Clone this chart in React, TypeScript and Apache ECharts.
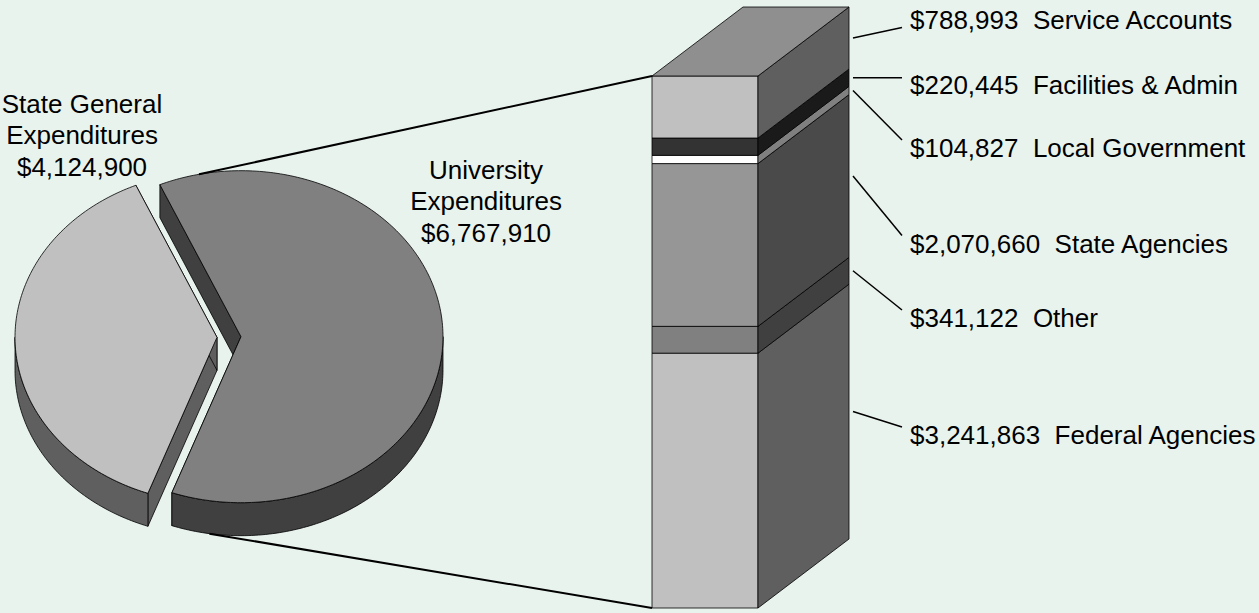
import React, { useEffect, useRef } from 'react';
import * as echarts from 'echarts';

// ---- data ----
const pieNames = ['State General\nExpenditures', 'University\nExpenditures'];
const pieValues = [4124900, 6767910];
const barNames = ['Federal Agencies', 'Other', 'State Agencies', 'Local Government', 'Facilities & Admin', 'Service Accounts'];
const barValues = [3241863, 341122, 2070660, 104827, 220445, 788993];

// ---- styles / layout ----
const pieTop = ['#C0C0C0', '#808080'];
const pieSide = ['#5F5F5F', '#404040'];
const barFront = ['#C0C0C0', '#808080', '#969696', '#FFFFFF', '#333333', '#C0C0C0'];
const barSide = ['#5F5F5F', '#404040', '#4A4A4A', '#808080', '#1A1A1A', '#5F5F5F'];
const barTopColor = '#8F8F8F';
const barLabelY = [435, 318, 243.5, 148, 84.5, 19.5];
const pieLabelPos = [[82, 135], [486, 201]];
const PIE = { cx: 229, cy: 337, rx: 202, ry: 166, h: 33, explode: 12, start: 110 };
const DEPTH = { dx: 91, dy: -69 };
const LABEL_X = 910;
const CONNECT_ANGLES = { top: 258, bottom: 99 };
const FONT = "'Liberation Sans', Arial, sans-serif";

const deg = Math.PI / 180;
const pieTotal = pieValues.reduce((s, v) => s + v, 0);
const barTotal = barValues.reduce((s, v) => s + v, 0);
const fmt = (v: number) => '$' + v.toLocaleString('en-US');

function sliceGeom(i: number) {
  let a = PIE.start;
  for (let j = 0; j < i; j++) a += (pieValues[j] / pieTotal) * 360;
  const b = a + (pieValues[i] / pieTotal) * 360;
  const mid = (a + b) / 2;
  const cx = PIE.cx + PIE.explode * Math.cos(mid * deg);
  const cy = PIE.cy + PIE.explode * Math.sin(mid * deg) * (PIE.ry / PIE.rx);
  return { a, b, cx, cy };
}
function ell(cx: number, cy: number, t: number) {
  return [cx + PIE.rx * Math.cos(t * deg), cy + PIE.ry * Math.sin(t * deg)];
}
function arc(cx: number, cy: number, lo: number, hi: number, dy = 0) {
  const pts: number[][] = [];
  const n = Math.max(2, Math.ceil(hi - lo));
  for (let k = 0; k <= n; k++) {
    const p = ell(cx, cy, lo + ((hi - lo) * k) / n);
    pts.push([p[0], p[1] + dy]);
  }
  return pts;
}

const outline = { stroke: '#000', lineWidth: 0.8 };

export default function App() {
  const ref = useRef<HTMLDivElement>(null);
  useEffect(() => {
    if (!ref.current) return;
    const chart = echarts.init(ref.current, undefined, { renderer: 'svg' });

    let cum = 0;
    const barData = barValues.map((v, i) => {
      const item = [i, cum, cum + v];
      cum += v;
      return item;
    });

    const option: any = {
      animation: false,
      backgroundColor: '#E9F3EE',
      grid: { left: 652, width: 106, top: 76, height: 532 },
      xAxis: { type: 'value', min: 0, max: 1, show: false },
      yAxis: { type: 'value', min: 0, max: barTotal, show: false },
      series: [
        {
          type: 'custom',
          coordinateSystem: 'none',
          data: pieValues.map((v, i) => [v, i]),
          renderItem: (params: any, api: any) => {
            const i = params.dataIndex;
            const { a, b, cx, cy } = sliceGeom(i);
            const h = PIE.h;
            const children: any[] = [];
            for (const t of [a, b]) {
              const r = ell(cx, cy, t);
              children.push({
                type: 'polygon',
                shape: { points: [[cx, cy], r, [r[0], r[1] + h], [cx, cy + h]] },
                style: { fill: pieSide[i], ...outline },
              });
            }
            for (let k = -1; k <= 2; k++) {
              const lo = Math.max(a, k * 360);
              const hi = Math.min(b, k * 360 + 180);
              if (hi > lo) {
                const top = arc(cx, cy, lo, hi);
                const bot = arc(cx, cy, lo, hi, h).reverse();
                children.push({
                  type: 'polygon',
                  shape: { points: top.concat(bot) },
                  style: { fill: pieSide[i], ...outline },
                });
              }
            }
            children.push({
              type: 'polygon',
              shape: { points: [[cx, cy]].concat(arc(cx, cy, a, b)) },
              style: { fill: pieTop[i], ...outline },
            });
            children.push({
              type: 'text',
              x: pieLabelPos[i][0],
              y: pieLabelPos[i][1],
              style: {
                text: pieNames[i] + '\n' + fmt(api.value(0)),
                fill: '#000',
                font: `26px ${FONT}`,
                lineHeight: 31.5,
                align: 'center',
                verticalAlign: 'middle',
              },
            });
            return { type: 'group', children };
          },
        },
        {
          type: 'custom',
          coordinateSystem: 'cartesian2d',
          data: barData,
          encode: { x: 0, y: [1, 2] },
          renderItem: (params: any, api: any) => {
            const i = params.dataIndex;
            const p0 = api.coord([0, api.value(1)]);
            const p1 = api.coord([1, api.value(2)]);
            const { dx, dy } = DEPTH;
            const children: any[] = [];
            children.push({
              type: 'polygon',
              shape: { points: [[p0[0], p0[1]], [p1[0], p0[1]], [p1[0], p1[1]], [p0[0], p1[1]]] },
              style: { fill: barFront[i], ...outline },
            });
            children.push({
              type: 'polygon',
              shape: {
                points: [[p1[0], p0[1]], [p1[0] + dx, p0[1] + dy], [p1[0] + dx, p1[1] + dy], [p1[0], p1[1]]],
              },
              style: { fill: barSide[i], ...outline },
            });
            if (i === barValues.length - 1) {
              children.push({
                type: 'polygon',
                shape: {
                  points: [[p0[0], p1[1]], [p1[0], p1[1]], [p1[0] + dx, p1[1] + dy], [p0[0] + dx, p1[1] + dy]],
                },
                style: { fill: barTopColor, ...outline },
              });
              const g = sliceGeom(1);
              const s = ell(g.cx, g.cy, CONNECT_ANGLES.top);
              children.push({
                type: 'line',
                shape: { x1: s[0], y1: s[1], x2: p0[0], y2: p1[1] },
                style: { stroke: '#000', lineWidth: 2 },
              });
            }
            if (i === 0) {
              const g = sliceGeom(1);
              const s = ell(g.cx, g.cy, CONNECT_ANGLES.bottom);
              children.push({
                type: 'line',
                shape: { x1: s[0], y1: s[1] + PIE.h, x2: p0[0], y2: p0[1] },
                style: { stroke: '#000', lineWidth: 2 },
              });
            }
            // leader line + label
            const sy = (p0[1] + p1[1]) / 2 + dy;
            const sx = p1[0] + dx + 4;
            const ly = barLabelY[i];
            const ey = ly + Math.max(-8, Math.min(8, sy - ly));
            children.push({
              type: 'line',
              shape: { x1: sx, y1: sy, x2: LABEL_X - 8, y2: ey },
              style: { stroke: '#000', lineWidth: 1.5 },
            });
            children.push({
              type: 'text',
              x: LABEL_X,
              y: ly,
              style: {
                text: fmt(api.value(2) - api.value(1)) + '\u00a0\u00a0' + barNames[i],
                fill: '#000',
                font: `26px ${FONT}`,
                align: 'left',
                verticalAlign: 'middle',
              },
            });
            return { type: 'group', children };
          },
        },
      ],
    };
    chart.setOption(option);
    return () => chart.dispose();
  }, []);
  return (
    <div
      ref={ref}
      style={{ position: 'fixed', left: 0, top: 0, width: 1259, height: 613 }}
    />
  );
}
